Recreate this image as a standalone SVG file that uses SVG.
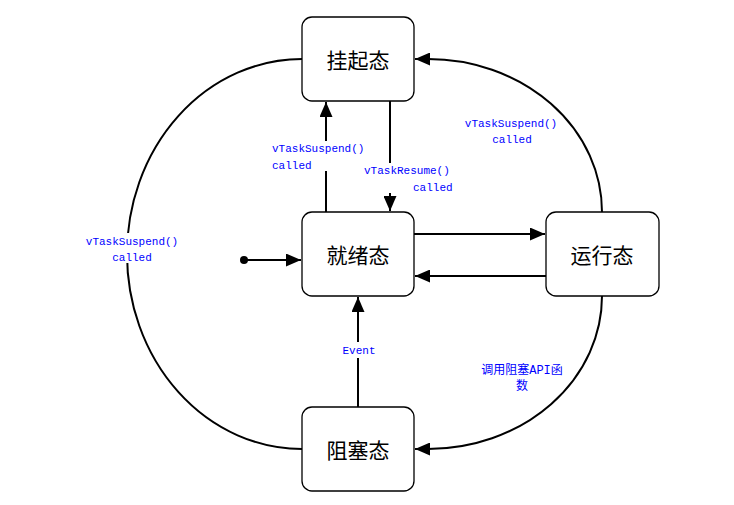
<svg xmlns="http://www.w3.org/2000/svg" width="734" height="505" viewBox="0 0 734 505">
<style>
.node rect{fill:#fff;stroke:#000;stroke-width:1.3}
.node text{font-family:"Noto Sans CJK SC",sans-serif;font-size:21px;fill:#000;text-anchor:middle;dominant-baseline:central}
.edge{fill:none;stroke:#000;stroke-width:2}
.lbl{font-family:"Liberation Mono","Noto Sans CJK SC",monospace;font-size:11px;fill:#0000ff}
.cjk{font-size:12px}
.bg{fill:#fff}
</style>
<defs>
<marker id="arr" viewBox="0 0 15 13" refX="15" refY="6.5" markerWidth="15" markerHeight="13" markerUnits="userSpaceOnUse" orient="auto">
<path d="M0,0 L15,6.5 L0,13 Z" fill="#000"/>
</marker>
</defs>
<rect width="734" height="505" fill="#fff"/>
<g id="connectors">
<path class="edge" d="M302,59 A175 195 0 0 0 302 449"/>
<path class="edge" d="M602,212 A174 153 0 0 0 428 59 L415 59" marker-end="url(#arr)"/>
<path class="edge" d="M602,296 A174 153 0 0 1 428 449 L415 449" marker-end="url(#arr)"/>
<path class="edge" d="M326,212 L326,102" marker-end="url(#arr)"/>
<path class="edge" d="M390,101 L390,211" marker-end="url(#arr)"/>
<path class="edge" d="M414,234 L545,234" marker-end="url(#arr)"/>
<path class="edge" d="M546,276 L415,276" marker-end="url(#arr)"/>
<path class="edge" d="M244,260 L301,260" marker-end="url(#arr)"/>
<circle cx="244" cy="260" r="4" fill="#000"/>
<path class="edge" d="M358,407 L358,297" marker-end="url(#arr)"/>
<rect class="bg" x="270" y="141" width="98" height="30"/>
<text class="lbl" x="272" y="152">vTaskSuspend()</text>
<text class="lbl" x="272" y="169">called</text>
<rect class="bg" x="363" y="163" width="92" height="30"/>
<text class="lbl" x="364" y="174">vTaskResume()</text>
<text class="lbl" x="413" y="191">called</text>
<text class="lbl" x="511" y="127" text-anchor="middle">vTaskSuspend()</text>
<text class="lbl" x="512" y="143" text-anchor="middle">called</text>
<rect class="bg" x="82" y="233" width="100" height="30"/>
<text class="lbl" x="132" y="245" text-anchor="middle">vTaskSuspend()</text>
<text class="lbl" x="132" y="261" text-anchor="middle">called</text>
<rect class="bg" x="340" y="342" width="38" height="16"/>
<text class="lbl" x="359" y="354" text-anchor="middle">Event</text>
<text class="lbl cjk" x="522" y="374" text-anchor="middle">调用阻塞API函</text>
<text class="lbl cjk" x="522" y="390" text-anchor="middle">数</text>
</g>
<g id="suspended" class="node"><rect x="302" y="17" width="112" height="84" rx="10"/><text x="358" y="59">挂起态</text></g>
<g id="ready" class="node"><rect x="302" y="212" width="112" height="84" rx="10"/><text x="358" y="254">就绪态</text></g>
<g id="running" class="node"><rect x="546" y="212" width="113" height="84" rx="10"/><text x="602" y="254">运行态</text></g>
<g id="blocked" class="node"><rect x="302" y="407" width="112" height="84" rx="10"/><text x="358" y="449">阻塞态</text></g>
</svg>
